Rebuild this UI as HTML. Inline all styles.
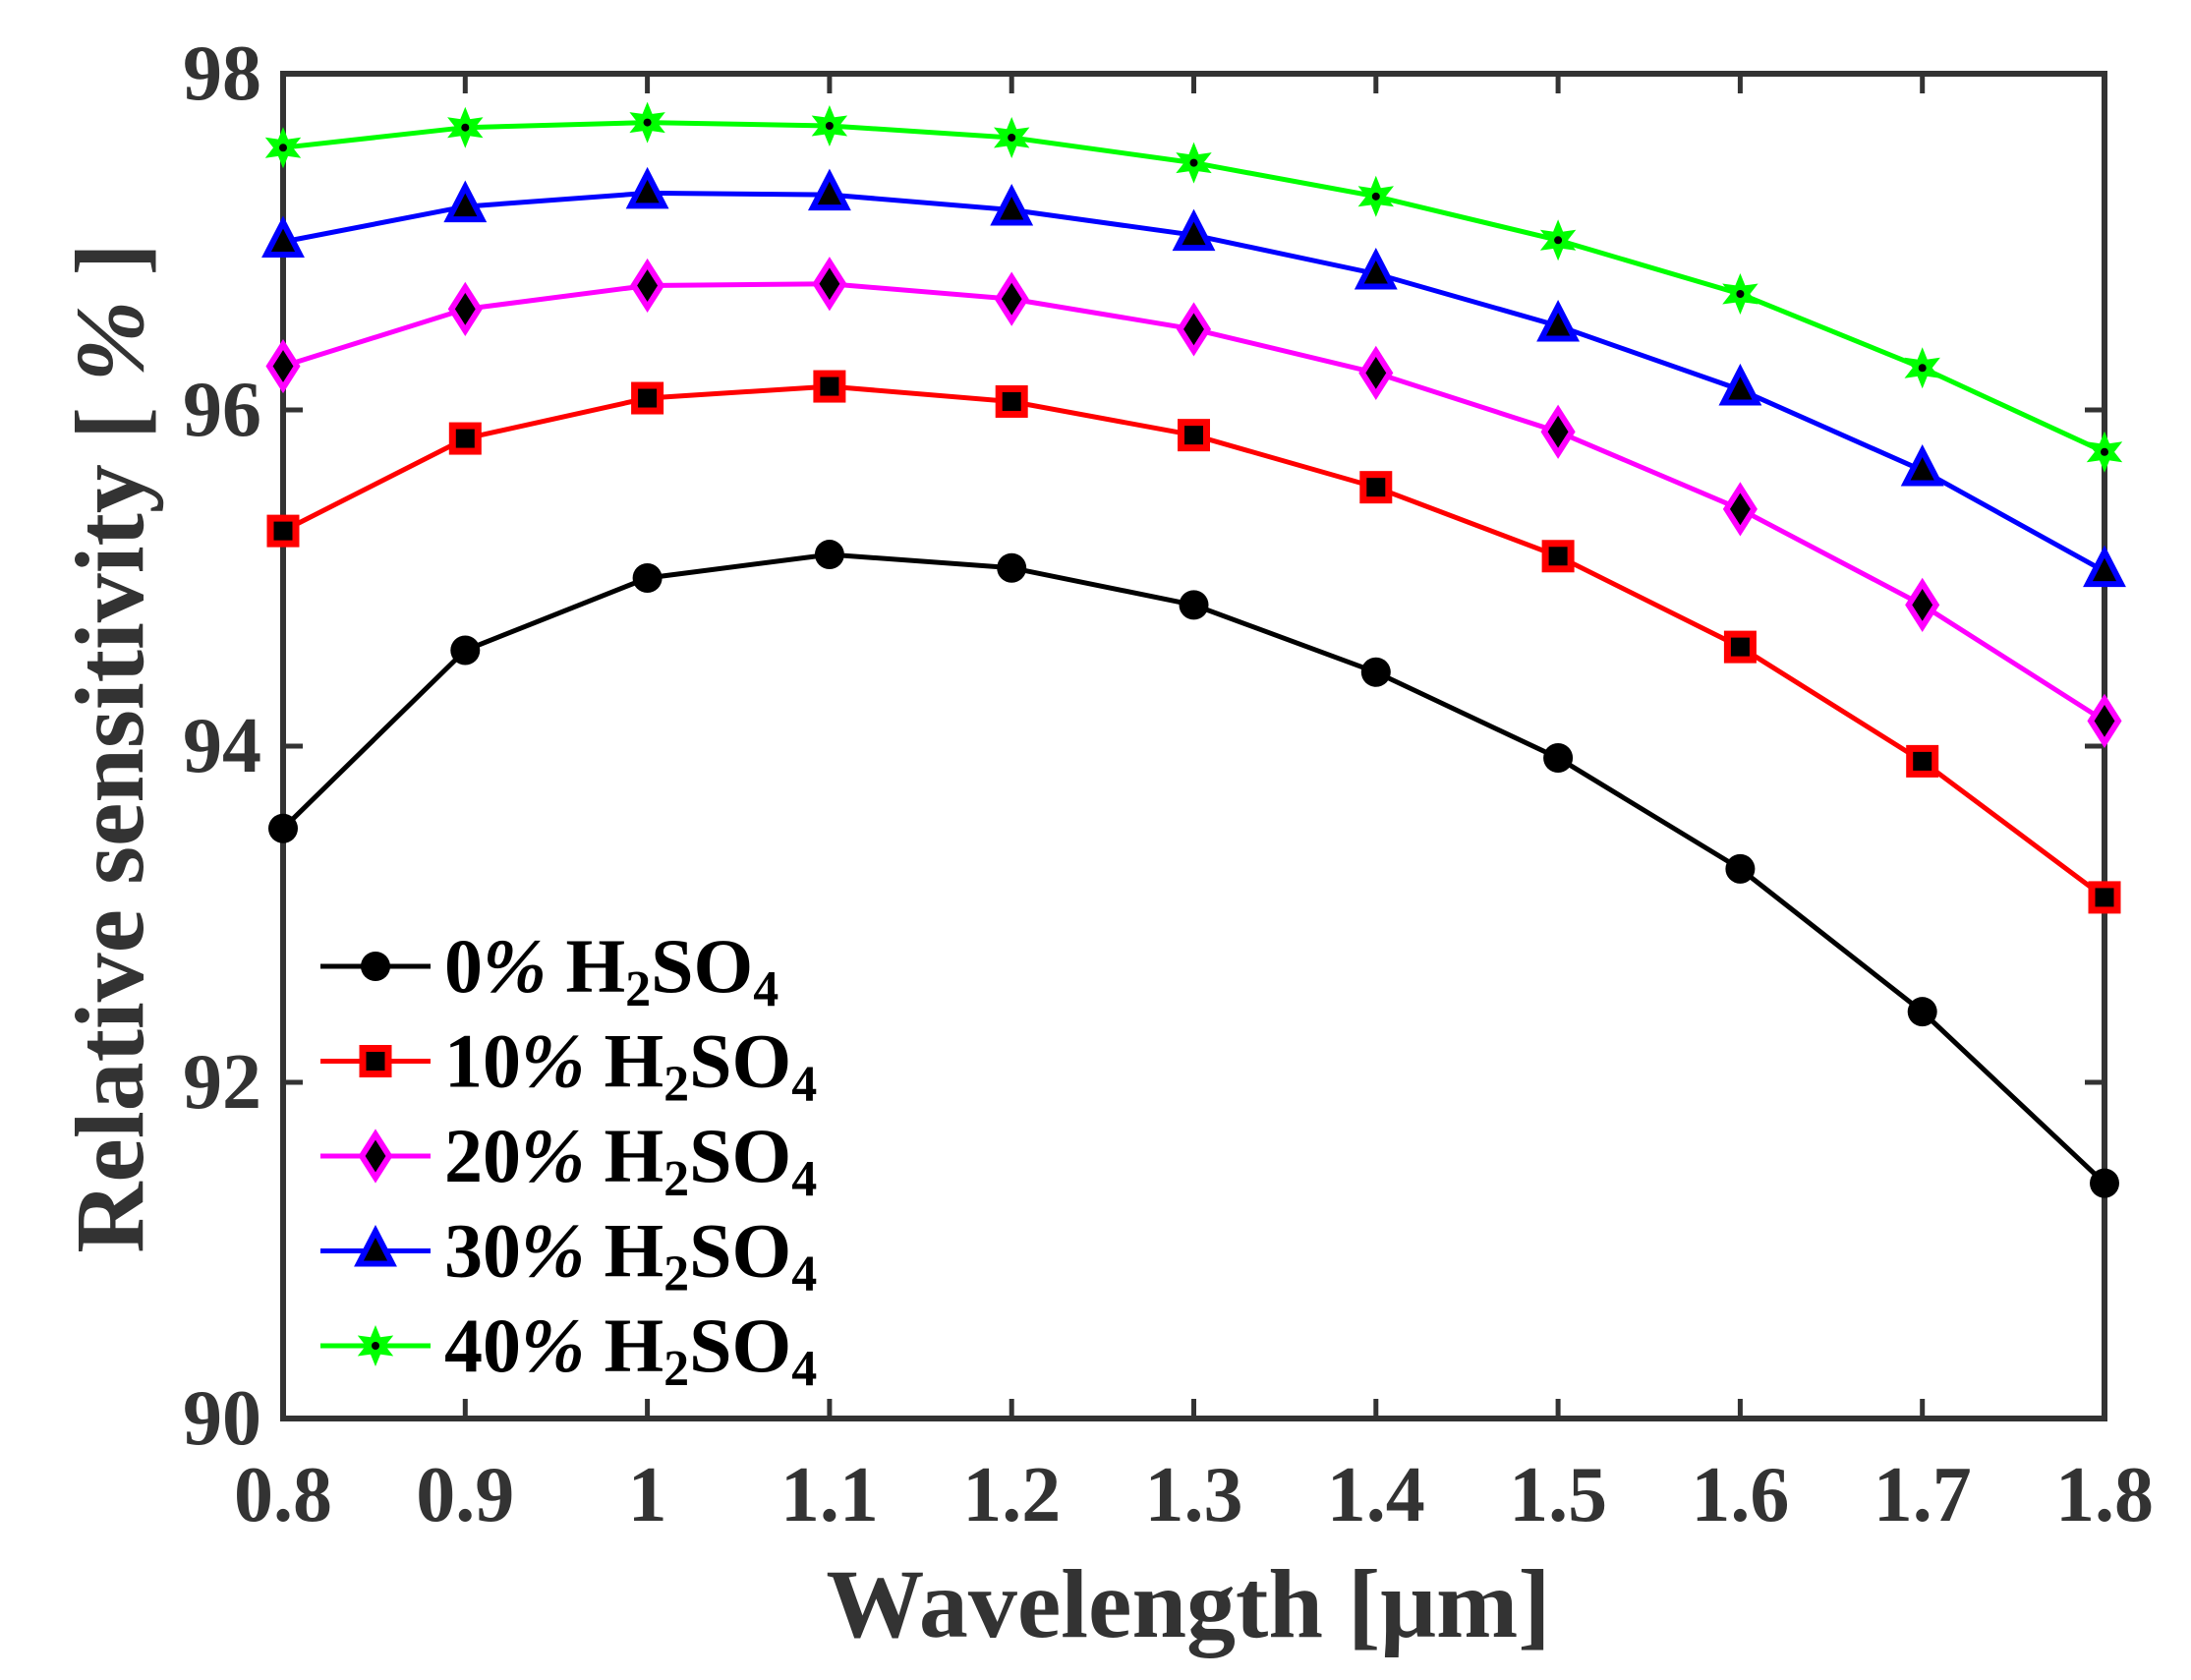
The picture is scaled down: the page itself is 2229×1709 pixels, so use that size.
<!DOCTYPE html>
<html><head><meta charset="utf-8"><style>
html,body{margin:0;padding:0;background:#fff;}
svg{display:block;font-family:"Liberation Serif",serif;}
</style></head><body>
<svg id="chart" width="2229" height="1709" viewBox="0 0 2229 1709" xmlns="http://www.w3.org/2000/svg">
<g id="grid"></g>
<g id="series"></g>
<g id="legend"></g>
<text x="1209" y="1665" text-anchor="middle" font-size="100" font-weight="bold" fill="#333">Wavelength [μm]</text>
<text transform="translate(145,761) rotate(-90)" text-anchor="middle" font-size="100" font-weight="bold" fill="#333">Relative sensitivity [ <tspan font-style="italic">%</tspan> ]</text>
</svg>
<script>
const categories = [0.8,0.9,1.0,1.1,1.2,1.3,1.4,1.5,1.6,1.7,1.8];
const s0  = [93.51,94.57,95.00,95.14,95.06,94.84,94.44,93.93,93.27,92.42,91.40];
const s10 = [95.28,95.83,96.07,96.14,96.05,95.85,95.54,95.13,94.59,93.91,93.10];
const s20 = [96.26,96.60,96.74,96.75,96.66,96.48,96.22,95.87,95.41,94.84,94.15];
const s30 = [97.00,97.21,97.29,97.28,97.19,97.04,96.81,96.50,96.12,95.64,95.04];
const s40 = [97.56,97.68,97.71,97.69,97.62,97.47,97.27,97.01,96.69,96.25,95.75];
const xTicks = ["0.8","0.9","1","1.1","1.2","1.3","1.4","1.5","1.6","1.7","1.8"];
const yTicks = ["90","92","94","96","98"];
const seriesNames = ["0%","10%","20%","30%","40%"];

const L=288,R=2141,T=75,B=1443;
const xs=v=>L+(v-0.8)/(1.0)*(R-L);
const ys=v=>B-(v-90)/8*(B-T);
const NS="http://www.w3.org/2000/svg";
function mk(tag,attrs,parent){const e=document.createElementNS(NS,tag);for(const k in attrs)e.setAttribute(k,attrs[k]);parent.appendChild(e);return e;}
const grid=document.getElementById('grid'),ser=document.getElementById('series'),leg=document.getElementById('legend');

xTicks.forEach((t,i)=>{
  const x=xs(categories[i]);
  const a=mk('line',{x1:x,x2:x,y1:B,y2:B-20,stroke:'#333','stroke-width':5},grid);
  
  const b=mk('line',{x1:x,x2:x,y1:T,y2:T+20,stroke:'#333','stroke-width':5},grid);
  
  const tx=mk('text',{x:x,y:1547,'text-anchor':'middle','font-size':80,'font-weight':'bold',fill:'#333'},grid);
  tx.textContent=t;
  
});
yTicks.forEach(t=>{
  const y=ys(parseFloat(t));
  const a=mk('line',{x1:L,x2:L+20,y1:y,y2:y,stroke:'#333','stroke-width':5},grid);
  
  const b=mk('line',{x1:R,x2:R-20,y1:y,y2:y,stroke:'#333','stroke-width':5},grid);
  
  const tx=mk('text',{x:266,y:y+26,'text-anchor':'end','font-size':80,'font-weight':'bold',fill:'#333'},grid);
  tx.textContent=t;
  
});
const frame=mk('rect',{x:L,y:T,width:R-L,height:B-T,fill:'none',stroke:'#333','stroke-width':6},grid);


const colors=['#000','#ff0000','#ff00ff','#0000ff','#00ff00'];
const kinds=['circle','square','diamond','triangle','star'];
function marker(kind,color,x,y,g){
  let e;
  if(kind==='circle') e=mk('circle',{cx:x,cy:y,r:15,fill:'#000'},g);
  else if(kind==='square') e=mk('rect',{x:x-13,y:y-13,width:26,height:26,fill:'#000',stroke:color,'stroke-width':7},g);
  else if(kind==='diamond') e=mk('polygon',{points:`${x},${y-22} ${x+14},${y} ${x},${y+22} ${x-14},${y}`,fill:'#000',stroke:color,'stroke-width':6},g);
  else if(kind==='triangle') e=mk('polygon',{points:`${x},${y-20} ${x+17},${y+13} ${x-17},${y+13}`,fill:'#000',stroke:color,'stroke-width':6},g);
  else {
    let p=[];for(let k=0;k<12;k++){const r=k%2?10:21;const a=Math.PI/6*k-Math.PI/2;p.push((x+r*Math.cos(a)).toFixed(1)+','+(y+r*Math.sin(a)).toFixed(1));}
    e=mk('polygon',{points:p.join(' '),fill:color},g);
    mk('circle',{cx:x,cy:y,r:4,fill:'#000'},g);
  }
  return e;
}
[s0,s10,s20,s30,s40].forEach((vals,si)=>{
  const g=mk('g',{},ser);
  
  
  const pts=vals.map((v,i)=>xs(categories[i]).toFixed(1)+','+ys(v).toFixed(1)).join(' ');
  const pl=mk('polyline',{points:pts,fill:'none',stroke:colors[si],'stroke-width':5},g);
  
  vals.forEach((v,i)=>{
    const m=marker(kinds[si],colors[si],xs(categories[i]),ys(v),g);
    
  });
  // legend
  const ly=983+si*96.5;
  const lg=mk('g',{},leg);
  
  mk('line',{x1:326,x2:438,y1:ly,y2:ly,stroke:colors[si],'stroke-width':5},lg);
  marker(kinds[si],colors[si],382,ly,lg);
  const tx=mk('text',{x:452,y:ly+26,'font-size':78,'font-weight':'bold',fill:'#000'},lg);
  tx.innerHTML=seriesNames[si].replace('%','<tspan font-style="italic">%</tspan>')+' H<tspan font-size="52" dy="14">2</tspan><tspan dy="-14">SO</tspan><tspan font-size="52" dy="14">4</tspan>';
});
</script>
</body></html>
